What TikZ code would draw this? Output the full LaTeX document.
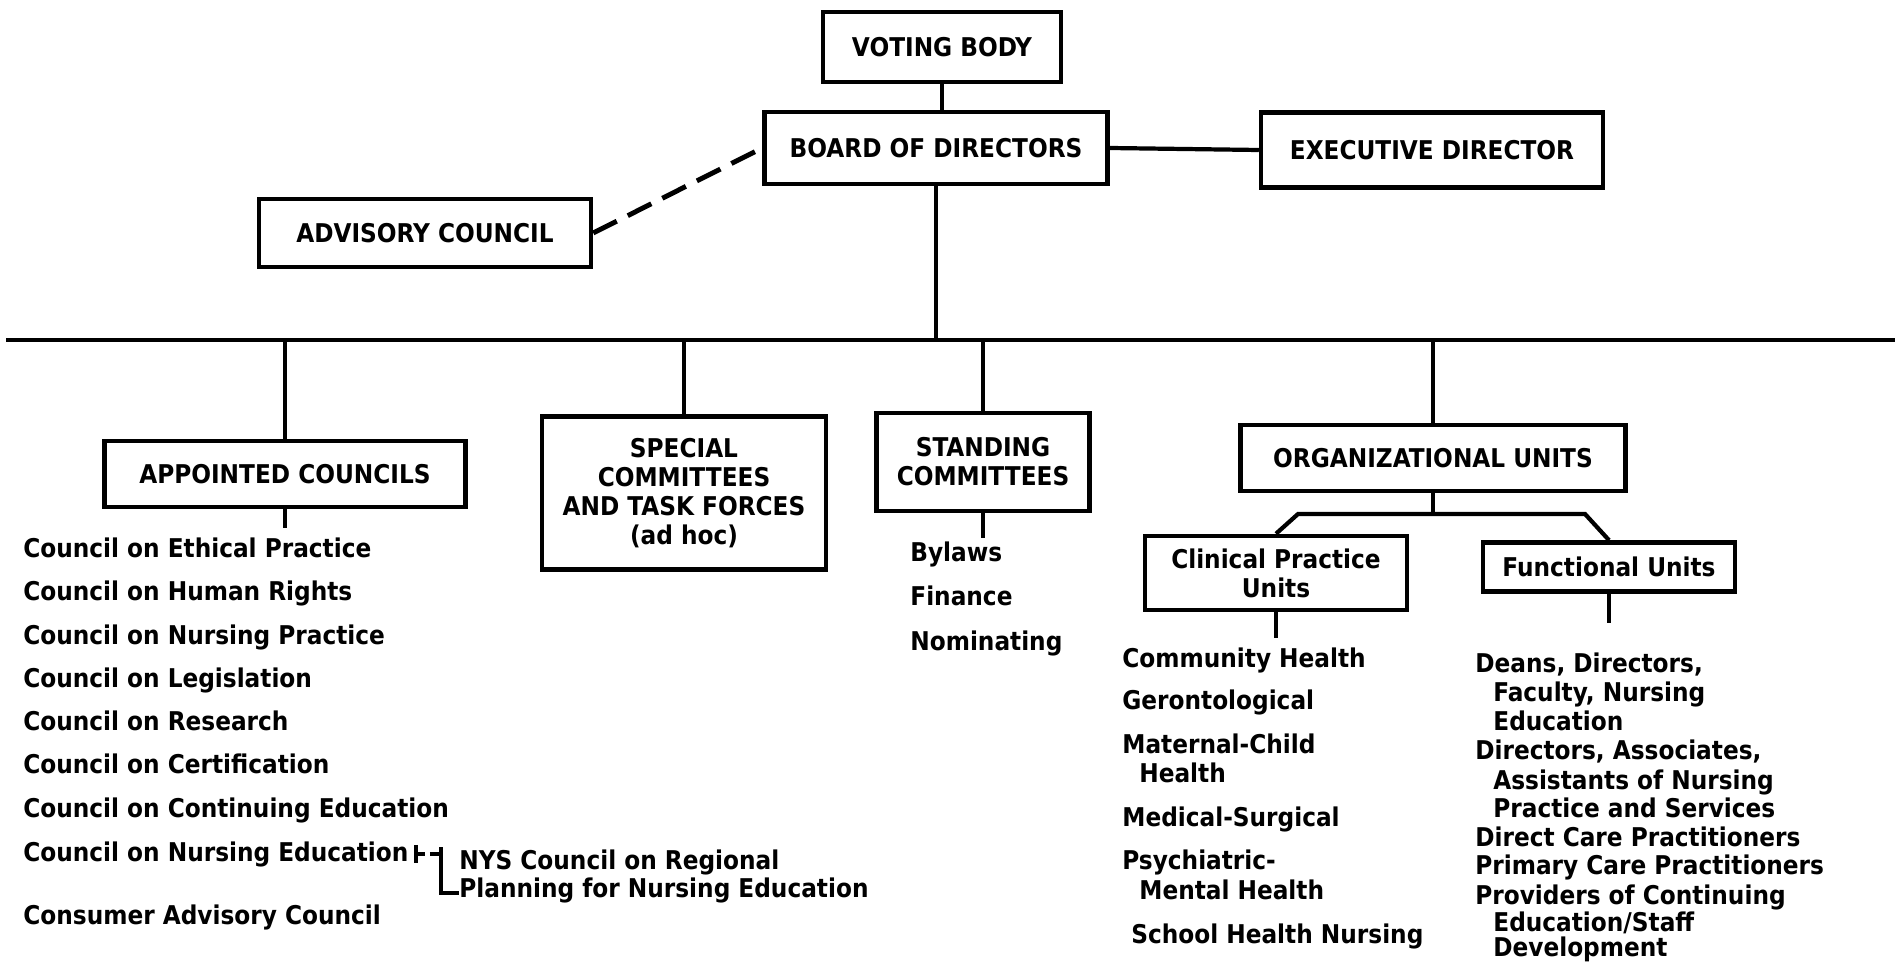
\documentclass[tikz,border=0pt]{standalone}
\usepackage{fontspec}
\setmainfont{DejaVu Sans Condensed}
\newcommand{\orgfont}{\fontsize{14.7}{16.5}\selectfont\bfseries}
\begin{document}
\begin{tikzpicture}[x=0.02cm, y=-0.02cm,
  box/.style={draw, line width=2.6pt, align=center, inner sep=0pt, font=\orgfont},
  item/.style={anchor=base west, inner sep=0pt, font=\orgfont},
  link/.style={line width=2pt}]

\useasboundingbox (0,0) rectangle (1895,962);

% Upper part
\node[box, minimum width=4.76cm, minimum height=1.4cm] (vote) at (942,47) {VOTING BODY};
\node[box, minimum width=6.86cm, minimum height=1.44cm] (board) at (936,148) {BOARD OF DIRECTORS};
\node[box, minimum width=6.84cm, minimum height=1.5cm] (exec) at (1432,150) {EXECUTIVE DIRECTOR};
\node[box, minimum width=6.64cm, minimum height=1.36cm] (adv) at (425,233) {ADVISORY COUNCIL};

\draw[link] (vote.south) -- (vote.south |- board.north);
\draw[link, line width=2.4pt] (board.east) -- (exec.west);
\draw[line width=2.8pt, dash pattern=on 15pt off 7pt] (adv.east) -- (board.west);

% Main line
\coordinate (busL) at (6,340);
\coordinate (busR) at (1895,340);
\draw[line width=2.6pt] (busL) -- (busR);
\draw[link] (board.south) -- (board.south |- busL);

% Lower boxes
\node[box, minimum width=7.22cm, minimum height=1.32cm] (appt) at (285,474) {APPOINTED COUNCILS};
\node[box, minimum width=5.68cm, minimum height=3.06cm] (spec) at (684,493) {SPECIAL\\COMMITTEES\\AND TASK FORCES\\(ad hoc)};
\node[box, minimum width=4.26cm, minimum height=1.96cm] (stand) at (983,462) {STANDING\\COMMITTEES};
\node[box, minimum width=7.7cm, minimum height=1.32cm] (org) at (1433,458) {ORGANIZATIONAL UNITS};
\node[box, minimum width=5.24cm, minimum height=1.48cm] (clin) at (1276,573) {Clinical Practice\\Units};
\node[box, minimum width=5.04cm, minimum height=0.98cm] (func) at (1609,567) {Functional Units};

\foreach \n in {appt, spec, stand, org}
  \draw[link] (\n.north) -- (\n.north |- busL);

% Feet under the boxes
\coordinate (appt-foot) at (285,528);
\coordinate (stand-foot) at (983,538);
\coordinate (clin-foot) at (1276,638);
\coordinate (func-foot) at (1609,623);
\foreach \n in {appt, stand, clin, func}
  \draw[link] (\n.south) -- (\n-foot);

% Fork under organizational units
\coordinate (fork) at (1433,514);
\coordinate (forkL) at (1298,514);
\coordinate (forkR) at (1585,514);
\draw[link] (org.south) -- (fork);
\draw[link, line width=2.4pt] (clin.north) -- (forkL) -- (forkR) -- (func.north);

% Councils
\foreach \y/\t [count=\i] in {557/Council on Ethical Practice, 600/Council on Human Rights,
    644/Council on Nursing Practice, 687/Council on Legislation, 730/Council on Research,
    773/Council on Certification, 817/Council on Continuing Education,
    861/Council on Nursing Education, 924/Consumer Advisory Council}
  \node[item] (cn\i) at (23,\y) {\t};

\node[item] (nys1) at (459,869) {NYS Council on Regional};
\node[item] (nys2) at (459,897) {Planning for Nursing Education};

\coordinate (tick) at ([xshift=4pt]cn8.east);
\coordinate (nystop) at (441,847);
\coordinate (nysfoot) at (441,893);
\draw[link] (tick) ++(0,-9) -- ++(0,18);
\draw[link, dash pattern=on 5pt off 3pt] (tick) -- (tick -| nystop);
\draw[link] (nystop) -- (nysfoot) -- (nysfoot -| nys2.west);

% Standing committees
\foreach \y/\t [count=\i] in {561/Bylaws, 605/Finance, 650/Nominating}
  \node[item] (sc\i) at (910,\y) {\t};

% Clinical practice units
\foreach \x/\y/\t [count=\i] in {1122/667/Community Health, 1122/709/Gerontological,
    1122/753/Maternal-Child, 1139/782/Health, 1122/826/Medical-Surgical,
    1122/869/Psychiatric-, 1139/899/Mental Health, 1131/943/School Health Nursing}
  \node[item] (cu\i) at (\x,\y) {\t};

% Functional units
\foreach \x/\y/\t [count=\i] in {1475/672/{Deans, Directors,}, 1493/701/{Faculty, Nursing},
    1493/730/Education, 1475/759/{Directors, Associates,}, 1493/789/Assistants of Nursing,
    1493/817/Practice and Services, 1475/846/Direct Care Practitioners,
    1475/874/Primary Care Practitioners, 1475/904/Providers of Continuing,
    1493/931/{Education/Staff}, 1493/956/Development}
  \node[item] (fu\i) at (\x,\y) {\t};

\end{tikzpicture}
\end{document}
